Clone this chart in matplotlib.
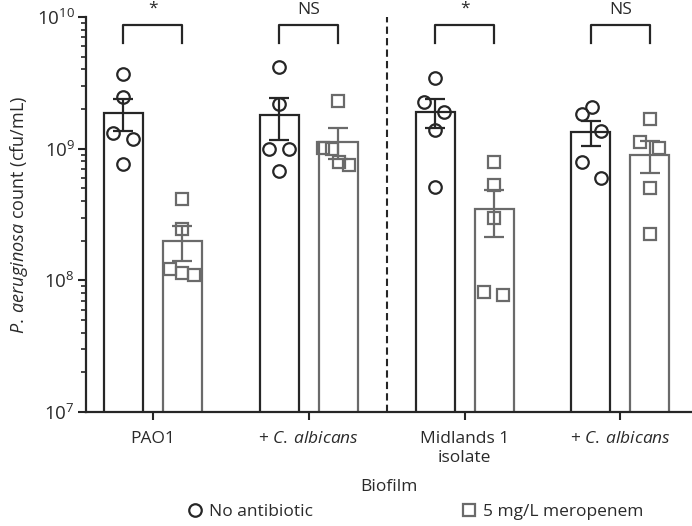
import numpy as np
import matplotlib
matplotlib.use("Agg")
import matplotlib.pyplot as plt
from matplotlib.lines import Line2D
from matplotlib.ticker import LogLocator, NullFormatter

plt.rcParams['font.family'] = ['Open Sans', 'DejaVu Sans']
plt.rcParams['mathtext.fontset'] = 'custom'
plt.rcParams['mathtext.rm'] = 'Open Sans'
plt.rcParams['mathtext.it'] = 'Open Sans:italic'

# ---------------- data ----------------
categories = ["PAO1", r"+ $\mathit{C.\:albicans}$", "Midlands 1\nisolate", r"+ $\mathit{C.\:albicans}$"]
series_names = ["No antibiotic", "5 mg/L meropenem"]

mean_none = [1.88e9, 1.80e9, 1.90e9, 1.33e9]
sem_none = [0.52e9, 0.63e9, 0.47e9, 0.28e9]
mean_mero = [2.0e8, 1.13e9, 3.5e8, 0.90e9]
sem_mero = [0.6e8, 0.30e9, 1.38e8, 0.25e9]

points_none = [
    [3.69e9, 2.45e9, 1.32e9, 1.18e9, 7.65e8],
    [4.17e9, 2.18e9, 1.00e9, 1.00e9, 6.76e8],
    [3.44e9, 2.27e9, 1.90e9, 1.38e9, 5.10e8],
    [2.07e9, 1.83e9, 1.36e9, 7.90e8, 6.00e8],
]
points_mero = [
    [4.15e8, 2.46e8, 1.22e8, 1.14e8, 1.10e8],
    [2.30e9, 1.01e9, 0.99e9, 7.90e8, 7.50e8],
    [7.90e8, 5.30e8, 2.98e8, 8.10e7, 7.80e7],
    [1.68e9, 1.12e9, 1.01e9, 5.00e8, 2.25e8],
]
significance = ["*", "NS", "*", "NS"]

# horizontal jitter of points (pixels)
jit_none = [[0, 0, -10, 10, 0], [0, 0, -10, 10, 0], [0, -11, 9, 0, 0], [1, -9, 10, -9, 10]]
jit_mero = [[0, 0, -12, 0, 12], [0, -15, -6, 1, 11], [0, 0, 0, -10, 9], [0, -10, 9, 0, 0]]

# ---------------- style ----------------
c_none = "#262626"
c_mero = "#6a6a6a"
txt = "#2a2a2a"
px = 1 / 155.8  # data units per pixel along x
off = 29.5 * px
bw = 39 * px
fs = 12.5

fig = plt.figure(figsize=(6.92, 5.26), dpi=100)
ax = fig.add_axes([86 / 692, 1 - 412 / 526, 604.5 / 692, 395 / 526])
ax.set_yscale('log')
ax.set_ylim(1e7, 1e10)
ax.set_xlim(-0.43, 3.45)

x = np.arange(len(categories))
ax.bar(x - off, mean_none, width=bw, bottom=1, facecolor='white', edgecolor=c_none, linewidth=1.6, zorder=2)
ax.bar(x + off, mean_mero, width=bw, bottom=1, facecolor='white', edgecolor=c_mero, linewidth=1.6, zorder=2)
ax.errorbar(x - off, mean_none, yerr=sem_none, fmt='none', ecolor=c_none, elinewidth=1.6, capsize=7.2, capthick=1.6, zorder=3)
ax.errorbar(x + off, mean_mero, yerr=sem_mero, fmt='none', ecolor=c_mero, elinewidth=1.6, capsize=7.2, capthick=1.6, zorder=3)

for i in range(len(categories)):
    xs = x[i] - off + np.array(jit_none[i]) * px
    ax.plot(xs, points_none[i], 'o', ms=9, mfc='none', mec=c_none, mew=1.6, zorder=4, clip_on=False)
    xs = x[i] + off + np.array(jit_mero[i]) * px
    ax.plot(xs, points_mero[i], 's', ms=8.5, mfc='none', mec=c_mero, mew=1.6, zorder=4, clip_on=False)

# significance brackets
for i, s in enumerate(significance):
    x0, x1 = x[i] - off, x[i] + off
    ytop = 10 ** 9.939
    ybot = 10 ** 9.803
    ax.plot([x0, x0, x1, x1], [ybot, ytop, ytop, ybot], color=c_none, lw=1.6, clip_on=False, zorder=5)
    ax.annotate(s, xy=((x0 + x1) / 2, ytop), xytext=(0, 6 if s == "*" else 5), textcoords='offset points',
                ha='center', va='bottom', fontsize=12.5, color=txt, annotation_clip=False)

# divider
ax.axvline(1.5, color=c_none, lw=1.5, ls=(0, (3.5, 2)), zorder=1)

# axes styling
for sp in ['top', 'right']:
    ax.spines[sp].set_visible(False)
for sp in ['left', 'bottom']:
    ax.spines[sp].set_linewidth(1.6)
    ax.spines[sp].set_color(c_none)
ax.set_xticks(x)
ax.set_xticklabels(categories, fontsize=fs, color=txt, linespacing=1.2)
ax.tick_params(axis='x', length=6, width=1.5, color=c_none, pad=8)
ax.yaxis.set_major_locator(LogLocator(base=10, numticks=10))
ax.yaxis.set_minor_locator(LogLocator(base=10, subs=np.arange(2, 10), numticks=20))
ax.yaxis.set_minor_formatter(NullFormatter())
ax.tick_params(axis='y', which='major', length=6, width=1.5, color=c_none, labelsize=13.5, labelcolor=txt, pad=2)
ax.tick_params(axis='y', which='minor', length=3.5, width=1.2, color=c_none)
ax.set_ylabel(r"$\mathit{P.\:aeruginosa}$ count (cfu/mL)", fontsize=13, color=txt, labelpad=5)

fig.text(388.5 / 692, 1 - 487 / 526, "Biofilm", ha='center', va='center', fontsize=fs, color=txt)

handles = [
    Line2D([], [], marker='o', ls='none', ms=9, mfc='none', mec=c_none, mew=1.6),
    Line2D([], [], marker='s', ls='none', ms=8.5, mfc='none', mec=c_mero, mew=1.6),
]
fig.legend(handles, series_names, loc='center', bbox_to_anchor=(416 / 692, 1 - 512 / 526), ncol=2,
           frameon=False, fontsize=fs, handlelength=0.8, handletextpad=0.4, columnspacing=8.6,
           labelcolor=txt, borderpad=0, borderaxespad=0)

fig.savefig("out.png", dpi=100)
